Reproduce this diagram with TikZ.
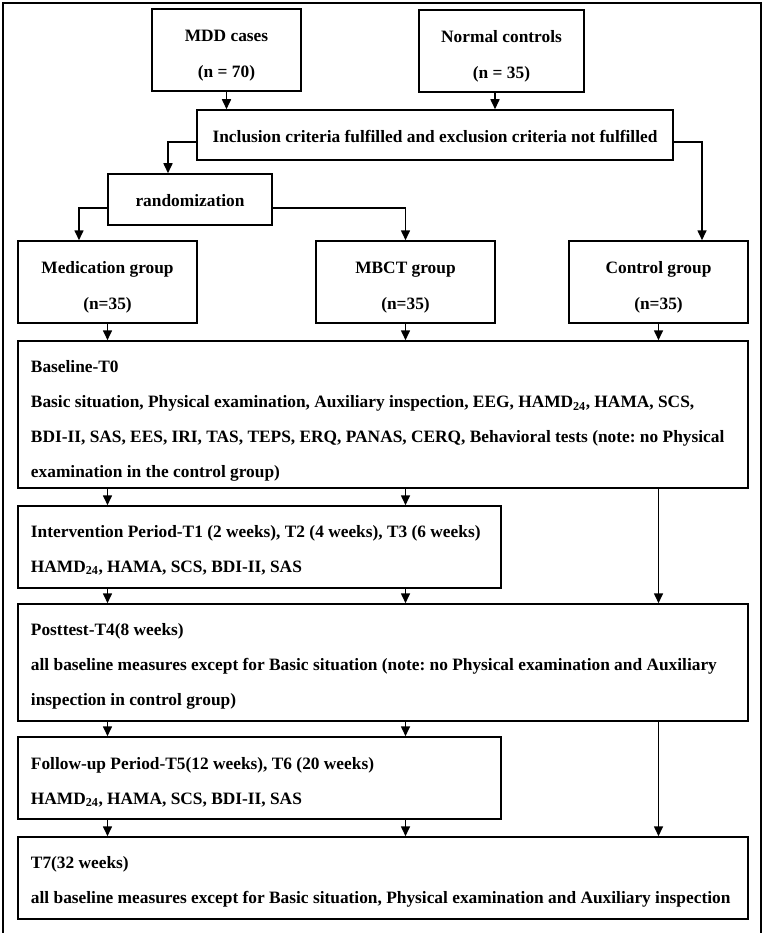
\documentclass[tikz,border=0pt]{standalone}
\usepackage{fontspec}
\setmainfont{Liberation Serif}
\usetikzlibrary{arrows.meta}
\frenchspacing
\tikzset{
  box/.style={draw, line width=1.5pt, rectangle, inner sep=0pt},
  ctxt/.style={inner sep=0pt, align=center, font=\bfseries\fontsize{17.35}{36.5}\selectfont},
  ltxt/.style={inner sep=0pt, align=left, anchor=west, font=\bfseries\fontsize{17.35}{35}\selectfont},
  arr/.style={line width=1.6pt, -{Triangle[length=10pt,width=9pt]}},
  frame/.style={line width=2pt}
}
\begin{document}
\frenchspacing
\begin{tikzpicture}[x=1pt,y=-1pt]
\useasboundingbox (0,0) rectangle (765,933);
\draw[frame] (3,934) -- (3,3) -- (761,3) -- (761,934);

\node[box, minimum width=149pt, minimum height=82pt] (mdd) at (226.5,50) {};
\node[box, minimum width=165pt, minimum height=82pt] (nc) at (501.5,51) {};
\node[box, minimum width=476pt, minimum height=50pt] (incl) at (435,135) {};
\node[box, minimum width=164pt, minimum height=51pt] (rand) at (190,199.5) {};
\node[box, minimum width=179pt, minimum height=82pt] (med) at (107.5,282) {};
\node[box, minimum width=179pt, minimum height=82pt] (mbct) at (405.5,282) {};
\node[box, minimum width=179pt, minimum height=82pt] (ctrl) at (658.5,282) {};
\node[box, minimum width=730pt, minimum height=147pt] (base) at (383,414.5) {};
\node[box, minimum width=483pt, minimum height=82pt] (interv) at (259.5,547) {};
\node[box, minimum width=730pt, minimum height=117pt] (post) at (383,662.5) {};
\node[box, minimum width=483pt, minimum height=82pt] (follow) at (259.5,778) {};
\node[box, minimum width=730pt, minimum height=82pt] (t7) at (383,878) {};

\node[ctxt] (mddtxt) at ([yshift=-5.5pt]mdd.center) {MDD cases\\(n = 70)};
\node[ctxt] (nctxt) at ([yshift=-5.5pt]nc.center) {Normal controls\\(n = 35)};
\node[ctxt] (incltxt) at ([yshift=-1pt]incl.center) {Inclusion criteria fulfilled and exclusion criteria not fulfilled};
\node[ctxt] (randtxt) at ([yshift=-1pt]rand.center) {randomization};
\node[ctxt] (medtxt) at ([yshift=-5.5pt]med.center) {Medication group\\(n=35)};
\node[ctxt] (mbcttxt) at ([yshift=-5.5pt]mbct.center) {MBCT group\\(n=35)};
\node[ctxt] (ctrltxt) at ([yshift=-5.5pt]ctrl.center) {Control group\\(n=35)};

\node[ltxt] (basetxt) at ([xshift=13.5pt,yshift=-6.5pt]base.west) {Baseline-T0\\
Basic situation, Physical examination, Auxiliary inspection, EEG, HAMD\textsubscript{24}, HAMA, SCS,\\
BDI-II, SAS, EES, IRI, TAS, TEPS, ERQ, PANAS, CERQ, Behavioral tests (note: no Physical\\
examination in the control group)};
\node[ltxt] (intervtxt) at ([xshift=13.5pt,yshift=-3pt]interv.west) {Intervention Period-T1 (2 weeks), T2 (4 weeks), T3 (6 weeks)\\
HAMD\textsubscript{24}, HAMA, SCS, BDI-II, SAS};
\node[ltxt] (posttxt) at ([xshift=13.5pt,yshift=-4pt]post.west) {Posttest-T4(8 weeks)\\
all baseline measures except for Basic situation (note: no Physical examination and Auxiliary\\
inspection in control group)};
\node[ltxt] (followtxt) at ([xshift=13.5pt,yshift=-4pt]follow.west) {Follow-up Period-T5(12 weeks), T6 (20 weeks)\\
HAMD\textsubscript{24}, HAMA, SCS, BDI-II, SAS};
\node[ltxt] (t7txt) at ([xshift=13.5pt,yshift=-4pt]t7.west) {T7(32 weeks)\\
all baseline measures except for Basic situation, Physical examination and Auxiliary inspection};

\draw[arr] (mdd.south) -- (mdd.south |- incl.north);
\draw[arr] ([xshift=-6.5pt]nc.south) -- ([xshift=-6.5pt]nc.south |- incl.north);
\draw[arr] ([yshift=-7pt]incl.west) -| ([xshift=-22pt]rand.north);
\draw[arr] ([yshift=-7pt]incl.east) -| ([xshift=43.5pt]ctrl.north);
\draw[arr] ([yshift=-8.5pt]rand.west) -| ([xshift=-28.5pt]med.north);
\draw[arr] ([yshift=-8.5pt]rand.east) -| (mbct.north);

\draw[arr] (med.south) -- (med.south |- base.north);
\draw[arr] (mbct.south) -- (mbct.south |- base.north);
\draw[arr] (ctrl.south) -- (ctrl.south |- base.north);

\draw[arr] (med.south |- base.south) -- (med.south |- interv.north);
\draw[arr] (mbct.south |- base.south) -- (mbct.south |- interv.north);
\draw[arr] (ctrl.south |- base.south) -- (ctrl.south |- post.north);

\draw[arr] (med.south |- interv.south) -- (med.south |- post.north);
\draw[arr] (mbct.south |- interv.south) -- (mbct.south |- post.north);

\draw[arr] (med.south |- post.south) -- (med.south |- follow.north);
\draw[arr] (mbct.south |- post.south) -- (mbct.south |- follow.north);
\draw[arr] (ctrl.south |- post.south) -- (ctrl.south |- t7.north);

\draw[arr] (med.south |- follow.south) -- (med.south |- t7.north);
\draw[arr] (mbct.south |- follow.south) -- (mbct.south |- t7.north);
\end{tikzpicture}
\end{document}
